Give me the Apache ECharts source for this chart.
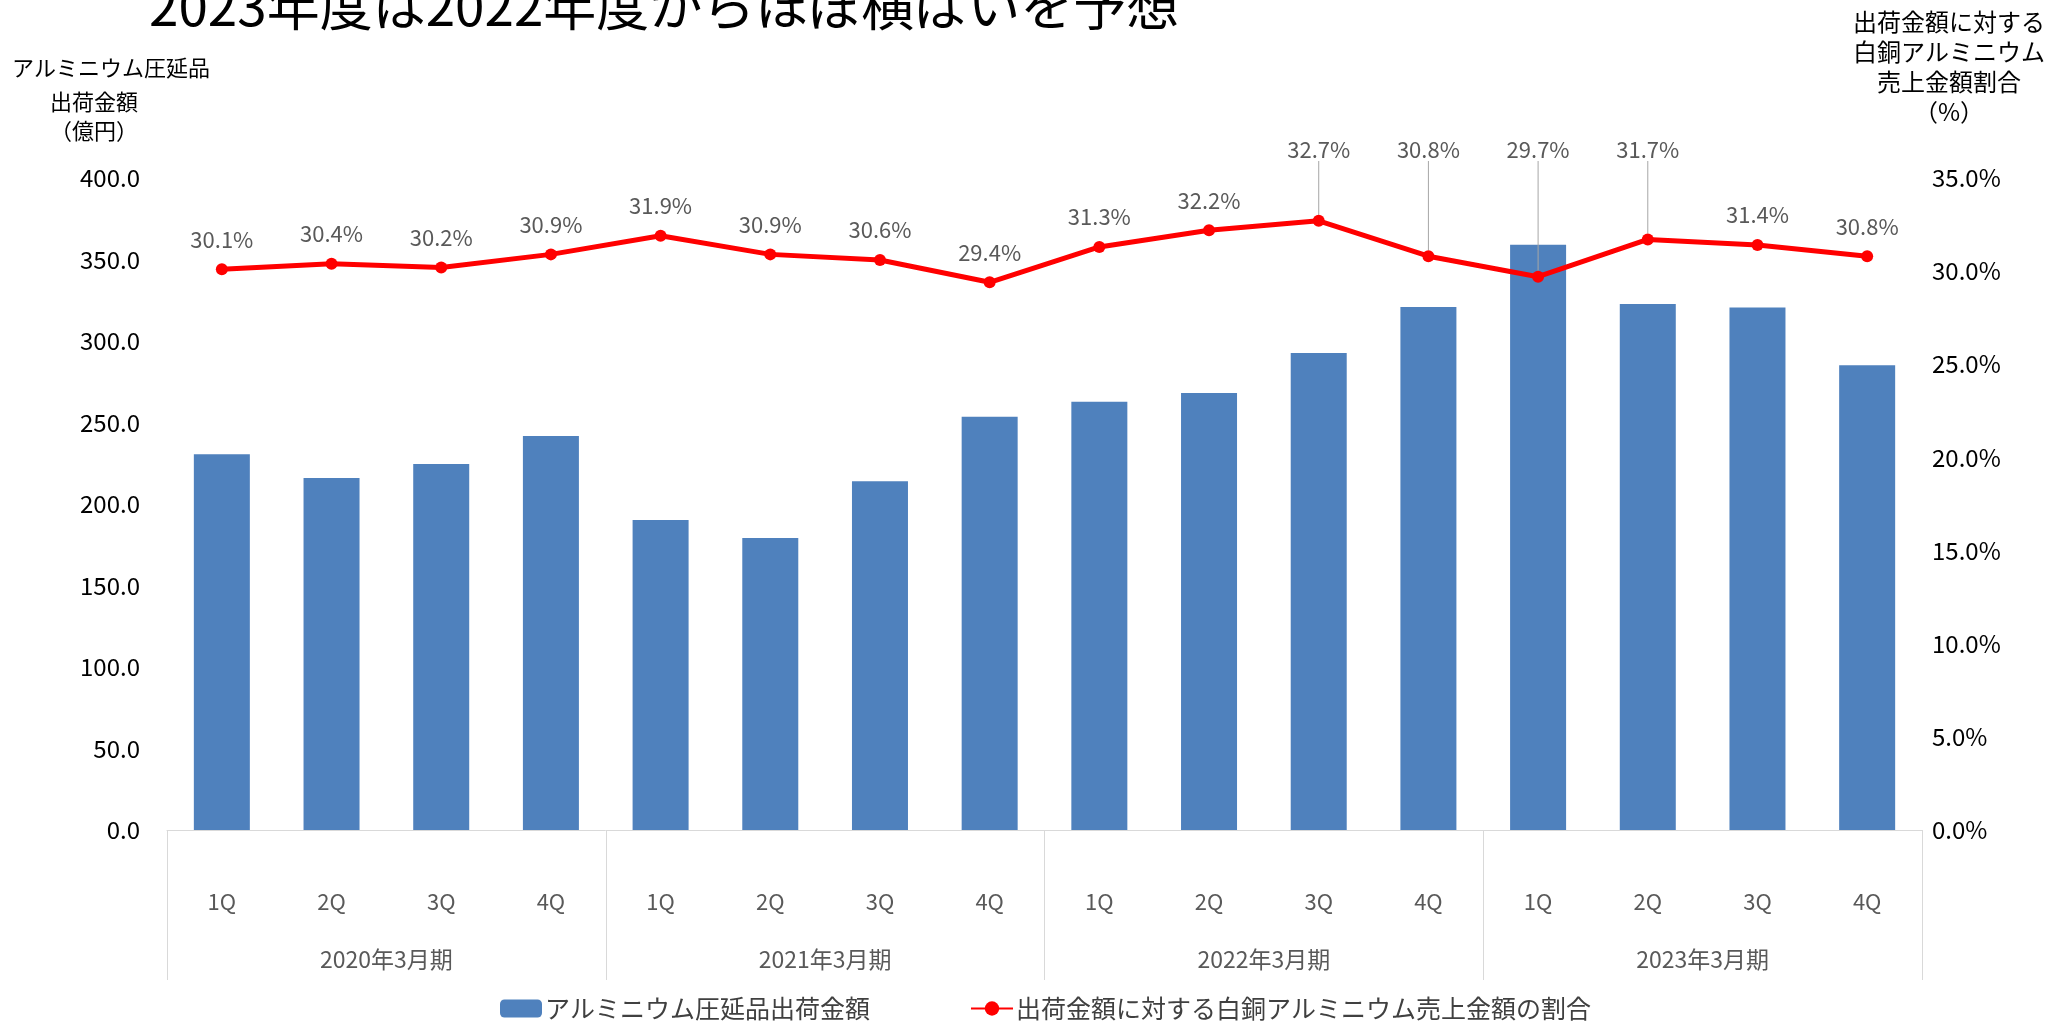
<!DOCTYPE html>
<html>
<head>
<meta charset="utf-8">
<script src="https://cdn.jsdelivr.net/npm/echarts@6/dist/echarts.min.js"></script>
<style>
html,body{margin:0;padding:0;background:#fff;}
#chart{width:2047px;height:1022px;}
</style>
</head>
<body>
<div id="chart"></div>
<script>
const titleText = '2023年度は2022年度からほぼ横ばいを予想';
const quarters = ['1Q','2Q','3Q','4Q','1Q','2Q','3Q','4Q','1Q','2Q','3Q','4Q','1Q','2Q','3Q','4Q'];
const fiscalYears = ['2020年3月期','2021年3月期','2022年3月期','2023年3月期'];
const shipmentValues = [230.5, 216.0, 224.5, 241.7, 190.2, 179.1, 213.9, 253.6, 262.8, 268.1, 292.6, 320.9, 359.1, 322.7, 320.5, 285.1];
const ratioValues = [30.1, 30.4, 30.2, 30.9, 31.9, 30.9, 30.6, 29.4, 31.3, 32.2, 32.7, 30.8, 29.7, 31.7, 31.4, 30.8];
const barName = 'アルミニウム圧延品出荷金額';
const lineName = '出荷金額に対する白銅アルミニウム売上金額の割合';
const leftAxisNameLines = ['アルミニウム圧延品', '出荷金額', '（億円）'];
const rightAxisName = '出荷金額に対する\n白銅アルミニウム\n売上金額割合\n（%）';
const raisedLabels = [10, 11, 12, 13];

const FONT = '"Noto Sans CJK JP", "Noto Sans", sans-serif';
const chart = echarts.init(document.getElementById('chart'), null, {renderer: 'canvas'});

const lineData = ratioValues.map((v, i) => raisedLabels.includes(i)
  ? {value: v, labelLine: {show: true, lineStyle: {color: '#a6a6a6', width: 1}}}
  : {value: v});

chart.setOption({
  backgroundColor: '#ffffff',
  animation: false,
  textStyle: {fontFamily: FONT},
  title: {
    text: titleText,
    left: 144,
    top: -26,
    textStyle: {fontFamily: FONT, fontSize: 53, fontWeight: 'normal', color: '#000000'}
  },
  graphic: [
    {type: 'text', x: 111, y: 57,
     style: {text: leftAxisNameLines[0], fontFamily: FONT, fontSize: 22, fill: '#000000', align: 'center', verticalAlign: 'top'}},
    {type: 'text', x: 94, y: 86.5,
     style: {text: leftAxisNameLines[1] + '\n' + leftAxisNameLines[2], fontFamily: FONT, fontSize: 22, lineHeight: 29.5, fill: '#000000', align: 'center', verticalAlign: 'top'}},
    {type: 'text', x: 1949, y: 7,
     style: {text: rightAxisName, fontFamily: FONT, fontSize: 24, lineHeight: 30, fill: '#000000', align: 'center', verticalAlign: 'top'}}
  ],
  legend: {
    left: 495,
    top: 991,
    itemWidth: 42,
    itemHeight: 18,
    itemGap: 100,
    textStyle: {fontFamily: FONT, fontSize: 25, color: '#404040', padding: [0,0,0,-2]},
    data: [barName, lineName]
  },
  grid: {left: 167, right: 125, top: 178, bottom: 192, containLabel: false},
  xAxis: [
    {
      type: 'category',
      data: quarters,
      position: 'bottom',
      axisLine: {show: true, lineStyle: {color: '#d9d9d9', width: 1}},
      axisTick: {show: false},
      axisLabel: {margin: 61, fontFamily: FONT, fontSize: 22, color: '#595959'},
      splitLine: {show: false}
    },
    {
      type: 'category',
      data: fiscalYears,
      position: 'bottom',
      axisLine: {show: false},
      axisTick: {show: true, length: 150, lineStyle: {color: '#d9d9d9', width: 1}},
      axisLabel: {margin: 118, fontFamily: FONT, fontSize: 23, color: '#595959'},
      splitLine: {show: false}
    }
  ],
  yAxis: [
    {
      type: 'value',
      min: 0, max: 400, interval: 50,
      axisLine: {show: false},
      axisTick: {show: false},
      splitLine: {show: false},
      axisLabel: {margin: 27, fontFamily: FONT, fontSize: 24, color: '#000000', formatter: v => v.toFixed(1)}
    },
    {
      type: 'value',
      min: 0, max: 35, interval: 5,
      position: 'right',
      axisLine: {show: false},
      axisTick: {show: false},
      splitLine: {show: false},
      axisLabel: {margin: 10, fontFamily: FONT, fontSize: 24, color: '#000000', formatter: v => v.toFixed(1) + '%'}
    }
  ],
  series: [
    {
      name: barName,
      type: 'bar',
      xAxisIndex: 0,
      yAxisIndex: 0,
      data: shipmentValues,
      barWidth: 56,
      itemStyle: {color: '#4f81bd'}
    },
    {
      name: lineName,
      type: 'line',
      xAxisIndex: 0,
      yAxisIndex: 1,
      data: lineData,
      symbol: 'circle',
      symbolSize: 12,
      lineStyle: {color: '#ff0000', width: 5},
      itemStyle: {color: '#ff0000'},
      z: 5,
      label: {
        show: true,
        position: 'top',
        distance: 13,
        fontFamily: FONT,
        fontSize: 22,
        color: '#595959',
        formatter: p => p.value.toFixed(1) + '%'
      },
      labelLine: {show: false},
      labelLayout: function (params) {
        if (raisedLabels.includes(params.dataIndex)) {
          const r = params.labelRect;
          return {x: r.x + r.width / 2, y: 150, align: 'center', verticalAlign: 'middle'};
        }
        return {};
      }
    }
  ]
});
</script>
</body>
</html>
